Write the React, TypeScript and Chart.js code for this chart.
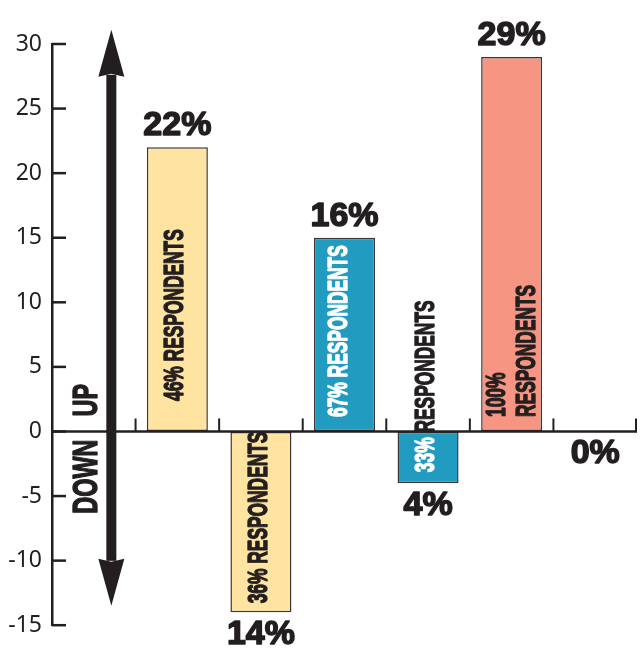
import React, { useEffect, useRef } from 'react';
import { Chart, registerables } from 'chart.js';
Chart.register(...registerables);

// ---- data ----
const categories = ['', '46% RESPONDENTS', '36% RESPONDENTS', '67% RESPONDENTS', '33% RESPONDENTS', '100% RESPONDENTS', ''];
const values: (number | null)[] = [null, 22, -14, 15, -4, 29, 0];
const changeLabels = ['', '22%', '14%', '16%', '4%', '29%', '0%'];
const yMin = -15;
const yMax = 30;
const yStep = 5;
const arrowLabels = ['UP', 'DOWN'];

// ---- styles ----
const INK = '#231f20';
const barColors = ['rgba(0,0,0,0)', '#FEE3A1', '#FEE3A1', '#229BC0', '#229BC0', '#F69682', '#7a5a50'];
const innerColors: (string[] | null)[] = [null, [INK, INK], [INK, INK], ['#ffffff', '#ffffff'], ['#ffffff', INK], [INK, INK], null];
const innerLayout: ({ lift: number; dx: number; lines: number; gap?: number } | null)[] = [
  null,
  { lift: 30, dx: 5.5, lines: 1 },
  { lift: 9, dx: 6, lines: 1 },
  { lift: 14, dx: 2, lines: 1 },
  { lift: 11, dx: 5.5, lines: 1 },
  { lift: 14, dx: -6.5, lines: 2, gap: 30 },
  null,
];

const COND_FONT = "bold 28px 'Liberation Sans', Arial, sans-serif";
const COND_SCALE = 0.62;

function condText(ctx: CanvasRenderingContext2D, text: string, x: number, y: number, color: string) {
  ctx.fillStyle = color;
  ctx.strokeStyle = color;
  ctx.lineWidth = 1.4;
  ctx.lineJoin = 'round';
  ctx.fillText(text, x, y);
  ctx.strokeText(text, x, y);
}

const overlay = {
  id: 'overlay',
  afterDatasetsDraw(chart: any) {
    const ctx: CanvasRenderingContext2D = chart.ctx;
    const ys = chart.scales.y;
    const area = chart.chartArea;
    const n = categories.length;
    const catW = (area.right - area.left) / n;
    const y0 = ys.getPixelForValue(0);
    ctx.save();

    // y ticks (inward)
    ctx.strokeStyle = INK;
    ctx.lineWidth = 2.5;
    for (let v = yMin; v <= yMax; v += yStep) {
      const py = ys.getPixelForValue(v);
      ctx.beginPath();
      ctx.moveTo(area.left, py);
      ctx.lineTo(area.left + 14, py);
      ctx.stroke();
    }
    // zero line
    ctx.beginPath();
    ctx.moveTo(area.left, y0);
    ctx.lineTo(area.right, y0);
    ctx.stroke();
    // category ticks
    ctx.lineWidth = 2;
    for (let k = 1; k <= n; k++) {
      const px = Math.min(area.left + k * catW, area.right - 1);
      ctx.beginPath();
      ctx.moveTo(px, y0);
      ctx.lineTo(px, y0 - 13);
      ctx.stroke();
    }

    // big double arrow
    const ax = area.left + 0.71 * catW;
    const topTip = ys.getPixelForValue(31.1);
    const botTip = ys.getPixelForValue(-13.5);
    const headL = 47, headW = 13, shaft = 5;
    ctx.fillStyle = INK;
    ctx.fillRect(ax - shaft, topTip + headL - 2, shaft * 2, botTip - topTip - 2 * headL + 4);
    ctx.beginPath();
    ctx.moveTo(ax, topTip);
    ctx.lineTo(ax + headW, topTip + headL);
    ctx.lineTo(ax, topTip + headL - 3);
    ctx.lineTo(ax - headW, topTip + headL);
    ctx.closePath();
    ctx.fill();
    ctx.beginPath();
    ctx.moveTo(ax, botTip);
    ctx.lineTo(ax + headW, botTip - headL);
    ctx.lineTo(ax, botTip - headL + 3);
    ctx.lineTo(ax - headW, botTip - headL);
    ctx.closePath();
    ctx.fill();

    // UP / DOWN
    ctx.font = "bold 35px 'Liberation Sans', Arial, sans-serif";
    ctx.textBaseline = 'alphabetic';
    const lx = area.left + 45;
    ctx.save();
    ctx.translate(lx, y0 - 15);
    ctx.rotate(-Math.PI / 2);
    ctx.scale(0.67, 1);
    ctx.textAlign = 'left';
    condText(ctx, arrowLabels[0], 0, 0, INK);
    ctx.restore();
    ctx.save();
    ctx.translate(lx, y0 + 8);
    ctx.rotate(-Math.PI / 2);
    ctx.scale(0.67, 1);
    ctx.textAlign = 'right';
    condText(ctx, arrowLabels[1], 0, 0, INK);
    ctx.restore();

    // bar texts
    const meta = chart.getDatasetMeta(0);
    meta.data.forEach((el: any, i: number) => {
      const v = values[i];
      if (v === null || v === undefined) return;
      const cx = el.x;
      const top = Math.min(el.y, el.base);
      const bottom = Math.max(el.y, el.base);
      // percentage label
      ctx.font = "bold 34px 'Liberation Sans', Arial, sans-serif";
      ctx.textAlign = 'center';
      ctx.textBaseline = 'alphabetic';
      ctx.fillStyle = INK;
      ctx.strokeStyle = INK;
      ctx.lineWidth = 1.5;
      ctx.lineJoin = 'round';
      const ly = v > 0 ? top - 12 : bottom + 32;
      ctx.fillText(changeLabels[i], cx, ly);
      ctx.strokeText(changeLabels[i], cx, ly);

      // inner rotated text
      const lay = innerLayout[i];
      const cols = innerColors[i];
      if (!lay || !cols || !categories[i]) return;
      const words = categories[i].split(' ');
      const startY = bottom - lay.lift;
      ctx.font = COND_FONT;
      ctx.textAlign = 'left';
      if (lay.lines === 1) {
        ctx.save();
        ctx.translate(cx + lay.dx, startY);
        ctx.rotate(-Math.PI / 2);
        ctx.scale(COND_SCALE, 1);
        const first = words[0] + ' ';
        condText(ctx, first, 0, 0, cols[0]);
        const w = ctx.measureText(first).width;
        condText(ctx, words.slice(1).join(' '), w, 0, cols[1]);
        ctx.restore();
      } else {
        words.forEach((wd, j) => {
          ctx.save();
          ctx.translate(cx + lay.dx + j * (lay.gap || 30), startY);
          ctx.rotate(-Math.PI / 2);
          ctx.scale(COND_SCALE, 1);
          condText(ctx, wd, 0, 0, cols[j] || INK);
          ctx.restore();
        });
      }
    });
    ctx.restore();
  },
};

export default function App() {
  const ref = useRef<HTMLCanvasElement>(null);
  useEffect(() => {
    if (!ref.current) return;
    const chart = new Chart(ref.current, {
      type: 'bar',
      data: {
        labels: categories,
        datasets: [
          {
            data: values as any,
            backgroundColor: barColors,
            borderColor: '#3b3536',
            borderWidth: 1.5,
            borderSkipped: false,
            categoryPercentage: 1,
            barPercentage: 0.73,
          },
        ],
      },
      options: {
        responsive: false,
        animation: false,
        devicePixelRatio: 1,
        layout: { padding: { left: 0, right: 3, top: 44, bottom: 22 } },
        plugins: { legend: { display: false }, tooltip: { enabled: false } },
        scales: {
          x: { display: false },
          y: {
            min: yMin,
            max: yMax,
            ticks: {
              stepSize: yStep,
              padding: 10,
              color: INK,
              font: { family: "'Noto Sans', sans-serif", size: 23 },
            },
            grid: { drawOnChartArea: false, drawTicks: false },
            border: { display: true, color: INK, width: 2.5 },
            afterFit(scale: any) {
              scale.width = 52;
            },
          },
        },
      },
      plugins: [overlay],
    });
    return () => chart.destroy();
  }, []);
  return (
    <div style={{ position: 'fixed', left: 0, top: 0, width: 640, height: 649, background: '#fff' }}>
      <canvas ref={ref} width={640} height={649} />
    </div>
  );
}
